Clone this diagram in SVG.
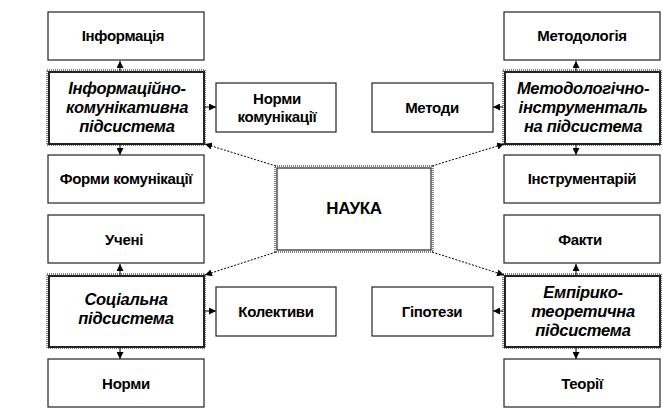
<svg xmlns="http://www.w3.org/2000/svg" width="663" height="411" viewBox="0 0 663 411">
<defs>
<style>
.box{fill:#fff;stroke:#222;stroke-width:1.2}
.dot{fill:none;stroke:#000;stroke-width:1;stroke-dasharray:1 1}
.sub{fill:#fff;stroke:#222;stroke-width:2}
.t{font-family:"Liberation Sans",Arial,sans-serif;font-size:15px;font-weight:bold;text-anchor:middle;fill:#000;letter-spacing:-0.3px}
.ti{font-style:italic;font-size:16.5px}
.c{stroke:#000;stroke-width:1;fill:none}
.d{stroke:#000;stroke-width:1;fill:none;stroke-dasharray:2 1.5}
</style>
<marker id="ah" viewBox="0 0 8 8" refX="8" refY="4" markerWidth="7" markerHeight="7" orient="auto" markerUnits="userSpaceOnUse">
<path d="M0,0 L8,4 L0,8 z" fill="#000"/>
</marker>
</defs>
<rect width="663" height="411" fill="#fff"/>

<g id="connectors">
<line class="c" x1="120" y1="71" x2="120" y2="61" marker-end="url(#ah)"/>
<line class="c" x1="120" y1="145" x2="120" y2="155" marker-end="url(#ah)"/>
<line class="c" x1="205" y1="107" x2="216" y2="107" marker-end="url(#ah)"/>
<line class="c" x1="576" y1="71" x2="576" y2="61" marker-end="url(#ah)"/>
<line class="c" x1="576" y1="145" x2="576" y2="155" marker-end="url(#ah)"/>
<line class="c" x1="503" y1="107" x2="493" y2="107" marker-end="url(#ah)"/>
<line class="c" x1="120" y1="275" x2="120" y2="264" marker-end="url(#ah)"/>
<line class="c" x1="120" y1="348" x2="120" y2="359" marker-end="url(#ah)"/>
<line class="c" x1="205" y1="311" x2="216" y2="311" marker-end="url(#ah)"/>
<line class="c" x1="576" y1="275" x2="576" y2="264" marker-end="url(#ah)"/>
<line class="c" x1="576" y1="348" x2="576" y2="359" marker-end="url(#ah)"/>
<line class="c" x1="503" y1="311" x2="493" y2="311" marker-end="url(#ah)"/>
<line class="d" x1="276" y1="166" x2="205" y2="144" marker-end="url(#ah)"/>
<line class="d" x1="432" y1="166" x2="504" y2="144" marker-end="url(#ah)"/>
<line class="d" x1="276" y1="252" x2="205" y2="275" marker-end="url(#ah)"/>
<line class="d" x1="432" y1="252" x2="504" y2="275" marker-end="url(#ah)"/>
</g>

<g id="n-info"><rect class="box" x="48" y="12" width="156" height="48"/><text class="t" x="123" y="41">Інформація</text></g>
<g id="n-info-sub"><rect class="dot" x="47" y="70" width="158" height="75"/><rect class="sub" x="49" y="72" width="155" height="72"/>
<text class="t ti" x="127" y="94">Інформаційно-</text><text class="t ti" x="127" y="113">комунікативна</text><text class="t ti" x="127" y="132">підсистема</text></g>
<g id="n-forms"><rect class="box" x="48" y="155" width="156" height="48"/><text class="t" x="126" y="184">Форми комунікації</text></g>
<g id="n-norms-com"><rect class="box" x="216" y="83" width="120" height="49"/><text class="t" x="277" y="104">Норми</text><text class="t" x="277" y="122">комунікації</text></g>

<g id="n-method"><rect class="box" x="504" y="12" width="156" height="48"/><text class="t" x="582" y="41">Методологія</text></g>
<g id="n-method-sub"><rect class="dot" x="503" y="70" width="158" height="75"/><rect class="sub" x="505" y="72" width="155" height="72"/>
<text class="t ti" x="583" y="94">Методологічно-</text><text class="t ti" x="583" y="113">інструменталь</text><text class="t ti" x="583" y="132">на підсистема</text></g>
<g id="n-instr"><rect class="box" x="504" y="155" width="156" height="48"/><text class="t" x="582" y="184">Інструментарій</text></g>
<g id="n-methods"><rect class="box" x="372" y="83" width="121" height="49"/><text class="t" x="432" y="113">Методи</text></g>

<g id="n-nauka"><rect class="dot" x="275" y="166" width="158" height="86"/><rect class="box" x="277" y="168" width="154" height="82"/><text class="t" x="354" y="214" style="font-size:17px">НАУКА</text></g>

<g id="n-scholars"><rect class="box" x="48" y="215" width="156" height="48"/><text class="t" x="124" y="245">Учені</text></g>
<g id="n-social-sub"><rect class="dot" x="47" y="274" width="158" height="74"/><rect class="sub" x="49" y="276" width="155" height="71"/>
<text class="t ti" x="126" y="305">Соціальна</text><text class="t ti" x="126" y="324">підсистема</text></g>
<g id="n-norms"><rect class="box" x="48" y="359" width="156" height="48"/><text class="t" x="126" y="389">Норми</text></g>
<g id="n-collectives"><rect class="box" x="216" y="287" width="120" height="49"/><text class="t" x="276" y="317">Колективи</text></g>

<g id="n-facts"><rect class="box" x="504" y="215" width="156" height="48"/><text class="t" x="580" y="245">Факти</text></g>
<g id="n-emp-sub"><rect class="dot" x="503" y="274" width="158" height="74"/><rect class="sub" x="505" y="276" width="155" height="71"/>
<text class="t ti" x="583" y="298">Емпірико-</text><text class="t ti" x="583" y="317">теоретична</text><text class="t ti" x="583" y="336">підсистема</text></g>
<g id="n-theories"><rect class="box" x="504" y="359" width="156" height="48"/><text class="t" x="582" y="389">Теорії</text></g>
<g id="n-hyp"><rect class="box" x="372" y="287" width="121" height="49"/><text class="t" x="432" y="317">Гіпотези</text></g>
</svg>
